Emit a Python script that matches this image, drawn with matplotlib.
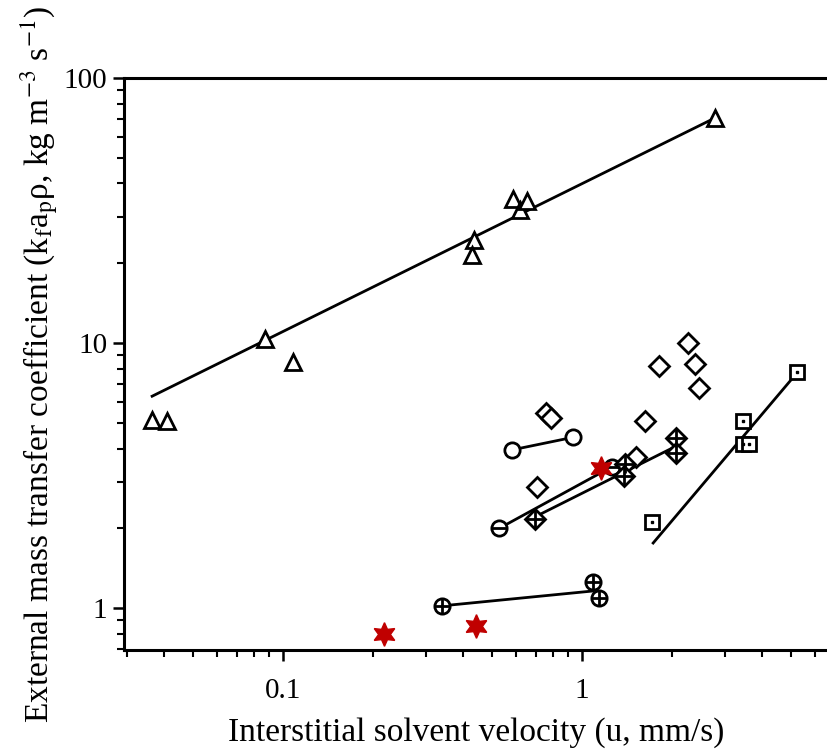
import matplotlib
matplotlib.use('Agg')
import matplotlib.pyplot as plt

plt.rcParams['font.family'] = ['Liberation Serif', 'DejaVu Serif']
plt.rcParams['mathtext.fontset'] = 'stix'

# open triangles + fitted line
tri_x = [0.0365, 0.0409, 0.0871, 0.108, 0.435, 0.429, 0.589, 0.620, 0.653, 2.78]
tri_y = [5.12, 5.10, 10.4, 8.48, 24.5, 21.5, 34.8, 31.8, 34.2, 70.6]
tri_fit_x = [0.0365, 2.78]
tri_fit_y = [6.3, 70.6]

# open diamonds (no line)
dia_x = [2.26, 1.81, 2.38, 2.46, 0.758, 0.788, 1.63, 1.52, 0.709]
dia_y = [9.98, 8.21, 8.31, 6.75, 5.43, 5.20, 5.08, 3.72, 2.87]

# open circles
cir_x = [0.582, 0.935]
cir_y = [3.95, 4.41]

# circles with a bar
bar_x = [0.529, 1.257]
bar_y = [2.0, 3.41]

# crossed diamonds + fit
xdia_x = [0.697, 1.39, 1.385, 2.07, 2.06]
xdia_y = [2.17, 3.49, 3.16, 4.37, 3.85]
xdia_fit_x = [0.697, 2.07]
xdia_fit_y = [2.21, 4.09]

# crossed circles + fit
xcir_x = [0.341, 1.086, 1.137]
xcir_y = [1.02, 1.25, 1.09]
xcir_fit_x = [0.341, 1.086]
xcir_fit_y = [1.02, 1.16]

# dotted squares + fit
sq_x = [5.22, 3.46, 3.45, 3.63, 1.72]
sq_y = [7.75, 5.08, 4.15, 4.15, 2.11]
sq_fit_x = [1.73, 5.09]
sq_fit_y = [1.76, 7.43]

# red stars
star_x = [0.218, 0.441, 1.16]
star_y = [0.798, 0.858, 3.37]

fig = plt.figure(figsize=(8.28, 7.49), dpi=100)
ax = fig.add_axes([0.1498, 0.1322, 0.8502, 0.7637])

lw = 2.0
mew = 2.0
k = 'black'
open_kw = dict(ls='none', mfc='white', mec=k, mew=mew, zorder=3)

ax.plot(tri_fit_x, tri_fit_y, color=k, lw=lw, zorder=2)
ax.plot(cir_x, cir_y, color=k, lw=lw, zorder=2)
ax.plot(bar_x, bar_y, color=k, lw=lw, zorder=2)
ax.plot(xdia_fit_x, xdia_fit_y, color=k, lw=lw, zorder=2)
ax.plot(xcir_fit_x, xcir_fit_y, color=k, lw=lw, zorder=2)
ax.plot(sq_fit_x, sq_fit_y, color=k, lw=lw, zorder=2)

ax.plot(tri_x, tri_y, marker='^', ms=12, **open_kw)
ax.plot(dia_x, dia_y, marker='D', ms=10, **open_kw)
ax.plot(cir_x, cir_y, marker='o', ms=11, **open_kw)
ax.plot(bar_x, bar_y, marker='o', ms=11, **open_kw)
ax.plot(bar_x, bar_y, marker='_', ms=11, ls='none', mec=k, mew=mew, zorder=4)
ax.plot(xdia_x, xdia_y, marker='D', ms=10, **open_kw)
ax.plot(xdia_x, xdia_y, marker='+', ms=13, ls='none', mec=k, mew=mew, zorder=4)
ax.plot(xcir_x, xcir_y, marker='o', ms=11, **open_kw)
ax.plot(xcir_x, xcir_y, marker='+', ms=11, ls='none', mec=k, mew=mew, zorder=4)
ax.plot(sq_x, sq_y, marker='s', ms=10, **open_kw)
ax.plot(sq_x, sq_y, marker='s', ms=1.5, ls='none', mfc=k, mec=k, zorder=4)
ax.plot(star_x, star_y, marker=(6, 1, 0), ms=17, ls='none',
        mfc='#c00000', mec='#c00000', mew=1, zorder=5)

ax.set_xscale('log')
ax.set_yscale('log')
ax.set_xlim(0.0294, 6.65)
ax.set_ylim(0.695, 100)
ax.set_xticks([0.1, 1])
ax.set_xticklabels(['0.1', '1'])
ax.set_yticks([1, 10, 100])
ax.set_yticklabels(['1', '10', '100'])

ax.spines['right'].set_visible(False)
for s in ['left', 'bottom', 'top']:
    ax.spines[s].set_linewidth(2.2)
ax.tick_params(which='major', direction='out', length=8, width=1.8,
               labelsize=21, top=False, right=False)
ax.tick_params(axis='x', which='major', pad=12)
ax.tick_params(axis='y', which='major', pad=4)
ax.tick_params(which='minor', direction='out', length=5, width=1.5,
               top=False, right=False)

ax.set_xlabel('Interstitial solvent velocity (u, mm/s)', fontsize=24, labelpad=10)
ax.set_ylabel('External mass transfer coefficient (k$_\\mathrm{f}$a$_\\mathrm{p}$ρ, kg m$^{-3}$ s$^{-1}$)',
              fontsize=24, labelpad=3)

fig.savefig('out.png', dpi=100)
